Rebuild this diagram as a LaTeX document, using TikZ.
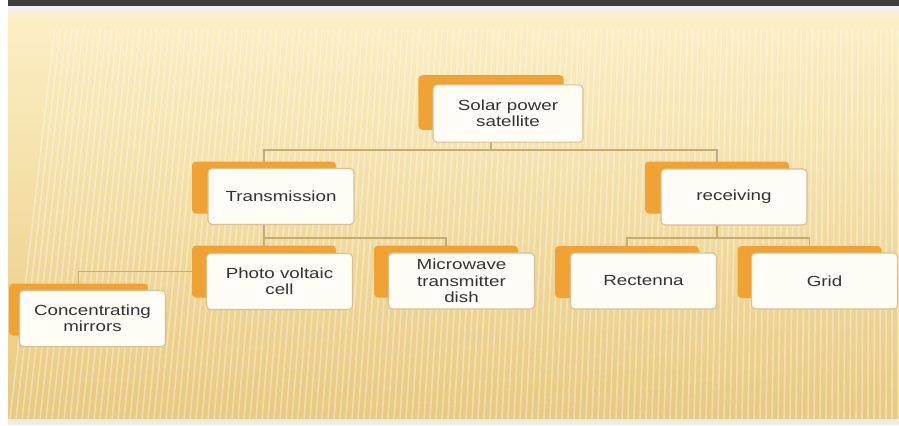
\documentclass[tikz,border=0pt]{standalone}
\usepackage{fontspec}
\newfontfamily\boxfont{Liberation Sans}[FakeStretch=1.28]
\usepackage{tikz}

\definecolor{slidetop}{HTML}{FDF0C6}
\definecolor{slidemid}{HTML}{F6E1A6}
\definecolor{slidebot}{HTML}{E8C97F}
\definecolor{tabfill}{HTML}{F0A234}
\definecolor{cardline}{HTML}{D6C293}
\definecolor{cardfill}{HTML}{FFFDF5}
\definecolor{wirecol}{HTML}{C4AC72}
\definecolor{inktext}{HTML}{333333}
\definecolor{barcol}{HTML}{3D3D3F}
\definecolor{footcol}{HTML}{EEEBE0}

\pgfdeclarelayer{bg}
\pgfdeclarelayer{wires}
\pgfsetlayers{bg,wires,main}

\tikzset{
  tab/.style={fill=tabfill, rounded corners=3pt, minimum width=108pt, minimum height=39pt, inner sep=0pt},
  card/.style={draw=cardline, line width=0.8pt, fill=cardfill, rounded corners=3pt,
    minimum width=109.5pt, minimum height=42pt, inner sep=2pt, align=center,
    text=inktext, font=\fontsize{11}{12.2}\boxfont},
  wire/.style={draw=wirecol, line width=1.1pt},
  stripeline/.style={white, opacity=0.36, line width=1.2pt}
}

\begin{document}
\begin{tikzpicture}[x=0.75pt, y=-0.75pt]
  \useasboundingbox (0,0) rectangle (899,425);

  % slide background
  \begin{pgfonlayer}{bg}
    \fill[white] (0,0) rectangle (899,425);
    \shade[top color=slidetop, middle color=slidemid, bottom color=slidebot] (8,6) rectangle (899,419);
    \begin{scope}
      \clip (8,30) rectangle (899,419);
      \foreach \x [evaluate=\x as \lean using 45*(1-\x/899)] in {10,16,...,898}
        \draw[stripeline] (\x+\lean,30) -- (\x,419);
    \end{scope}
    \fill[barcol] (8,0) rectangle (899,6);
    \shade[top color=gray!12, bottom color=slidetop] (8,6) rectangle (899,18);
    \fill[footcol] (8,419) rectangle (899,425);
  \end{pgfonlayer}

  % top
  \node[tab, minimum width=109pt, minimum height=41pt] (solarback) at (491,102.5) {};
  \node[card, minimum width=112.5pt, minimum height=43pt] (solar) at (508,113.5) {Solar power\\satellite};

  % second row
  \node[tab] (transback) at (264,187.5) {};
  \node[card] (trans) at (281,196.5) {Transmission};
  \node[tab] (recvback) at (717,187.5) {};
  \node[card] (recv) at (734,197) {receiving};

  % third row
  \node[tab] (photoback) at (264,271.5) {};
  \node[card] (photo) at (279.5,281.5) {Photo voltaic\\cell};
  \node[tab] (microback) at (446,271.5) {};
  \node[card] (micro) at (461.5,281) {Microwave\\transmitter\\dish};
  \node[tab] (rectback) at (627,272) {};
  \node[card] (rect) at (643.5,281) {Rectenna};
  \node[tab] (gridback) at (809.5,272) {};
  \node[card] (grid) at (824.5,281) {Grid};

  % hanging off photo voltaic cell
  \node[tab, minimum width=104.25pt] (concback) at (78.5,309.5) {};
  \node[card] (conc) at (92.5,318.5) {Concentrating\\mirrors};

  % connectors
  \begin{pgfonlayer}{wires}
    \draw[wire] (solarback.center) -- (solarback.center |- 0,150) -| (transback.center);
    \draw[wire] (solarback.center |- 0,150) -| (recvback.center);
    \draw[wire] (transback.center) -- (photoback.center);
    \draw[wire] (transback.center |- 0,238) -| (microback.center);
    \draw[wire] (photoback.center) -| (concback.center);
    \draw[wire] (recvback.center) -- (recvback.center |- 0,238) -| (rectback.center);
    \draw[wire] (recvback.center |- 0,238) -| (gridback.center);
  \end{pgfonlayer}
\end{tikzpicture}
\end{document}
